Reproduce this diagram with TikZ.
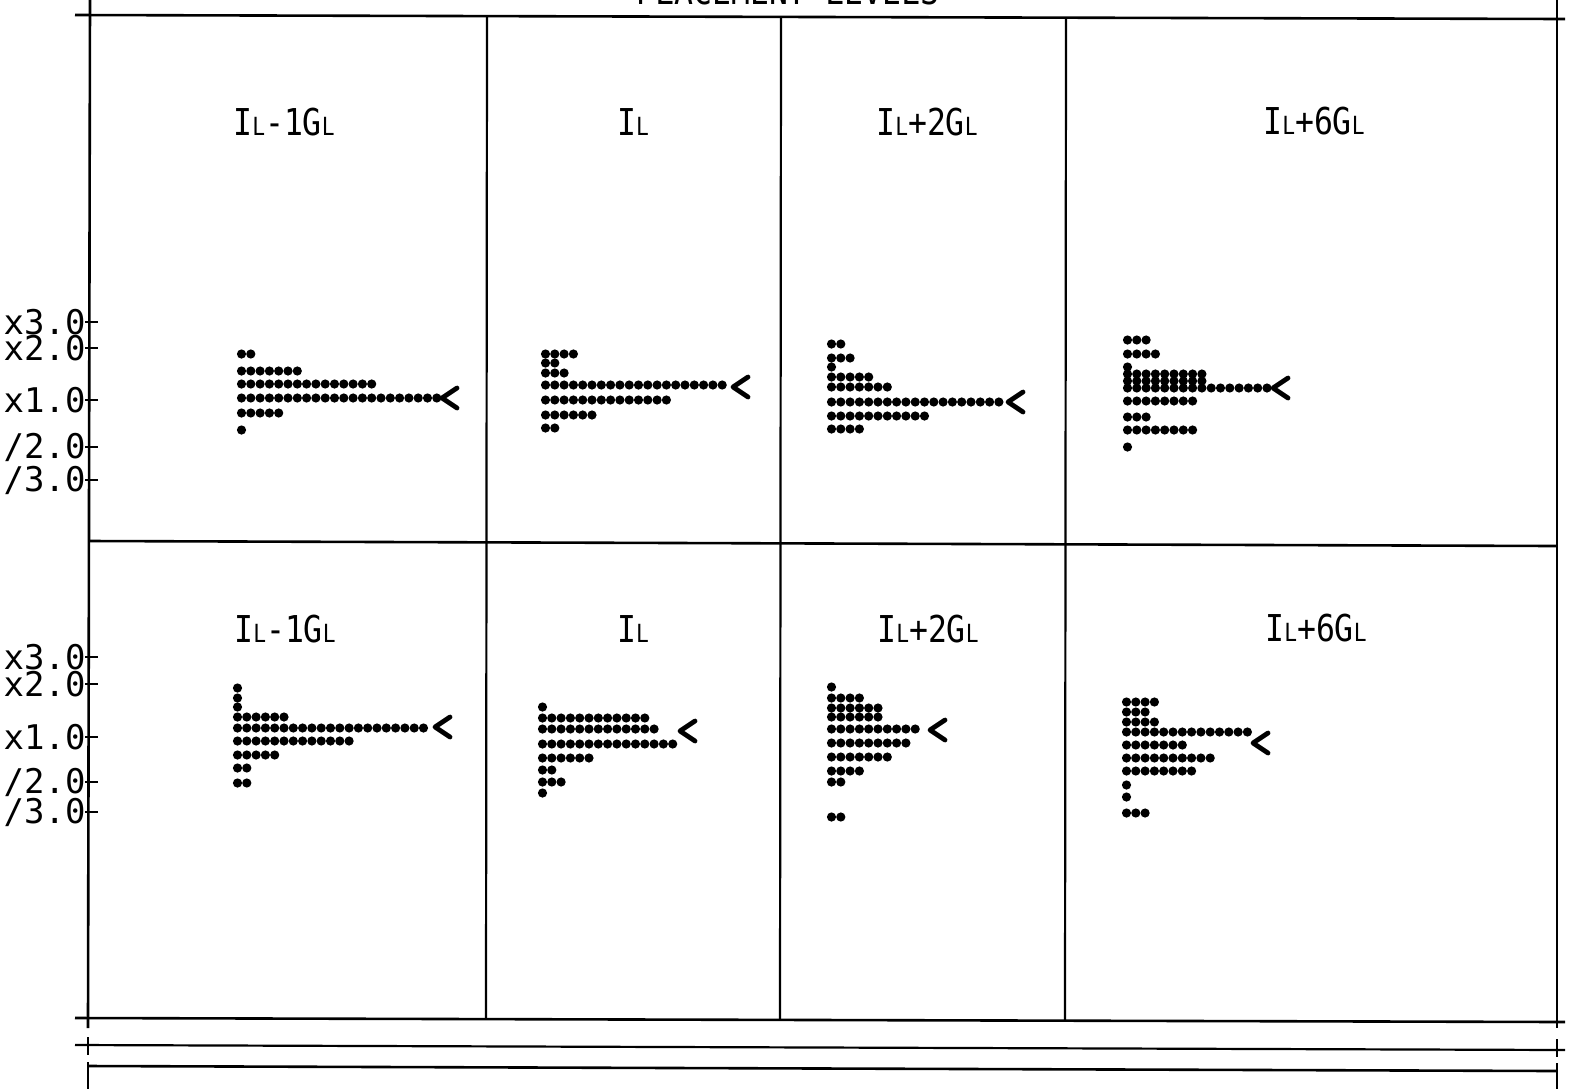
\documentclass[tikz,border=0pt]{standalone}
\usepackage{fontspec}
\newfontfamily\plotfont{DejaVu Sans Mono}
\newfontfamily\plotnarrow[FakeStretch=0.85]{DejaVu Sans Mono}
\newcommand{\sL}{{\fontsize{12.5}{13}\selectfont L}}

\begin{document}
\begin{tikzpicture}[x=0.5pt, y=-0.5pt,
    frame/.style = {line width=1.3pt},
    grid/.style = {line width=1.1pt},
    chev/.style = {line width=2.4pt, line cap=round, line join=round},
    lev/.style = {font=\plotfont\fontsize{17}{18}\selectfont, anchor=east, inner sep=0pt},
    head/.style = {font=\plotnarrow\fontsize{18.5}{19}\selectfont, anchor=base, inner sep=0pt}]
    \useasboundingbox (0,0) rectangle (1580,1089);

    \node [head] (title) at (788,4) {PLACEMENT LEVELS};

    % frame
    \draw[frame] (75,15) -- (1565,19);
    \draw[frame] (90,0) -- (88,1028);
    \draw[frame] (1557,0) -- (1557,1028);
    \draw[grid] (487,16) -- (486,1019);
    \draw[grid] (781,17) -- (780,1020);
    \draw[grid] (1066,18) -- (1065,1021);
    \draw[frame] (90,541) -- (1557,546);
    \draw[frame] (75,1018) -- (1565,1022);
    \draw[grid] (75,1045) -- (1565,1050);
    \draw[grid] (88,1037) -- (88,1055);
    \draw[grid] (1557,1039) -- (1557,1057);
    \draw[frame] (88,1066) -- (1557,1071);
    \draw[grid] (88,1062) -- (88,1089);
    \draw[grid] (1557,1063) -- (1557,1089);

    % level ticks
    \foreach \yy in {322,348,400,447,480,657,684,737,782,812}
        \draw[grid] (85,\yy) -- (98,\yy);

    \node [lev] (up3) at (86,322) {x3.0};
    \node [lev] (up2) at (86,348) {x2.0};
    \node [lev] (up1) at (86,400) {x1.0};
    \node [lev] (uphalf) at (86,447) {/2.0};
    \node [lev] (upthird) at (86,480) {/3.0};
    \node [lev] (lo3) at (86,657) {x3.0};
    \node [lev] (lo2) at (86,684) {x2.0};
    \node [lev] (lo1) at (86,737) {x1.0};
    \node [lev] (lohalf) at (86,782) {/2.0};
    \node [lev] (lothird) at (86,812) {/3.0};

    % column heads
    \node [head] (ha) at (284,135) {I\sL-1G\sL};
    \node [head] (hb) at (633,135) {I\sL};
    \node [head] (hc) at (927,135) {I\sL+2G\sL};
    \node [head] (hd) at (1314,134) {I\sL+6G\sL};
    \node [head] (hA) at (285,642) {I\sL-1G\sL};
    \node [head] (hB) at (633,642) {I\sL};
    \node [head] (hC) at (928,642) {I\sL+2G\sL};
    \node [head] (hD) at (1316,641) {I\sL+6G\sL};

    % upper histograms
    \foreach \yy/\n in {354/2,371/7,384/15,398/22,413/5,430/1}
        \foreach \k in {1,...,\n} \fill ({241.5+9.3*(\k-1)},\yy) circle[radius=4.6];
    \foreach \yy/\n in {354/4,363/2,373/3,385/20,400/14,415/6,428/2}
        \foreach \k in {1,...,\n} \fill ({545.5+9.3*(\k-1)},\yy) circle[radius=4.6];
    \foreach \yy/\n in {344/2,358/3,367/1,377/5,387/7,402/19,416/11,429/4}
        \foreach \k in {1,...,\n} \fill ({831.5+9.3*(\k-1)},\yy) circle[radius=4.6];
    \foreach \yy/\n in {340/3,354/4,367/1,374/9,381/9,388/16,401/8,417/3,430/8,447/1}
        \foreach \k in {1,...,\n} \fill ({1127.5+9.3*(\k-1)},\yy) circle[radius=4.6];

    % lower histograms
    \foreach \yy/\n in {688/1,698/1,707/1,717/6,728/21,741/13,755/5,768/2,783/2}
        \foreach \k in {1,...,\n} \fill ({237.5+9.3*(\k-1)},\yy) circle[radius=4.6];
    \foreach \yy/\n in {707/1,718/12,729/13,744/15,758/6,770/2,782/3,793/1}
        \foreach \k in {1,...,\n} \fill ({542.5+9.3*(\k-1)},\yy) circle[radius=4.6];
    \foreach \yy/\n in {687/1,698/4,708/6,717/6,729/10,743/9,757/7,771/4,782/2,817/2}
        \foreach \k in {1,...,\n} \fill ({831.5+9.3*(\k-1)},\yy) circle[radius=4.6];
    \foreach \yy/\n in {702/4,712/3,722/4,732/14,745/7,758/10,771/8,785/1,797/1,813/3}
        \foreach \k in {1,...,\n} \fill ({1126.5+9.3*(\k-1)},\yy) circle[radius=4.6];

    % medians
    \draw[chev] (457,388) -- (442,398) -- (457,408);
    \draw[chev] (748,377) -- (733,387) -- (748,397);
    \draw[chev] (1023,392) -- (1008,402) -- (1023,412);
    \draw[chev] (1288,378) -- (1273,388) -- (1288,398);
    \draw[chev] (450,717) -- (435,727) -- (450,737);
    \draw[chev] (695,721) -- (680,731) -- (695,741);
    \draw[chev] (945,720) -- (930,730) -- (945,740);
    \draw[chev] (1268,733) -- (1253,743) -- (1268,753);

\end{tikzpicture}
\end{document}
